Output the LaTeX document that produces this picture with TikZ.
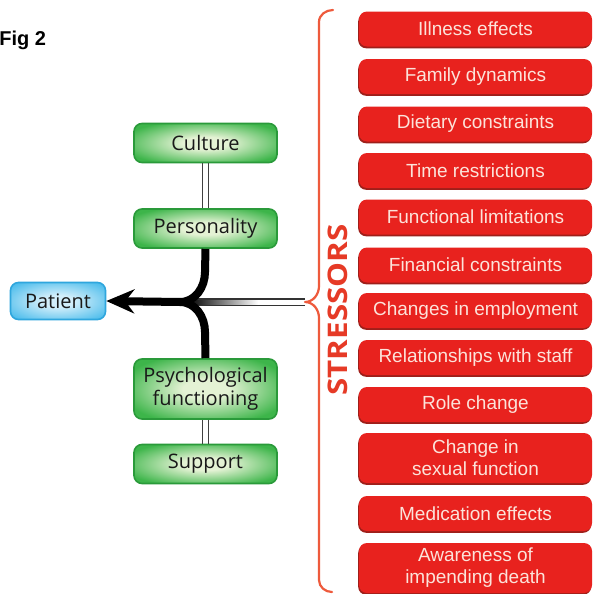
\documentclass[tikz,border=0pt]{standalone}
\usepackage{fontspec}
\setmainfont{Open Sans}
\newfontfamily\rfont{Liberation Sans}
\usetikzlibrary{arrows.meta}
\definecolor{gmain}{HTML}{3DB54A}
\definecolor{glight}{HTML}{E4F2D4}
\definecolor{gdark}{HTML}{2A9A3A}
\definecolor{bmain}{HTML}{4DBDEC}
\definecolor{blight}{HTML}{D2EEFA}
\definecolor{bdark}{HTML}{2FA6DD}
\definecolor{rmain}{HTML}{E8221E}
\definecolor{rdark}{HTML}{9E1F1A}
\definecolor{rtext}{HTML}{FCE3DA}
\definecolor{bracecol}{HTML}{EE5A3C}
\definecolor{stresscol}{HTML}{E63A26}
\pgfdeclareradialshading{gglow}{\pgfpoint{0bp}{0bp}}{color(0bp)=(glight); color(8bp)=(glight); color(30bp)=(gmain); color(50bp)=(gmain)}
\pgfdeclareradialshading{bglow}{\pgfpoint{0bp}{0bp}}{color(0bp)=(blight); color(8bp)=(blight); color(32bp)=(bmain); color(50bp)=(bmain)}
\begin{document}
\begin{tikzpicture}[x=0.5pt,y=-0.5pt,
  gbox/.style={rounded corners=4pt, draw=gdark, line width=0.8pt, shade, shading=gglow,
    minimum width=71.5pt, minimum height=19.5pt, inner sep=0pt, align=center,
    text=black!90, font=\fontsize{10}{11.5}\selectfont},
  pbox/.style={gbox, draw=bdark, shading=bglow, minimum width=47.5pt, minimum height=18.5pt},
  rbox/.style={rounded corners=4pt, fill=rmain, text=rtext, minimum width=116.5pt,
    minimum height=17.5pt, inner sep=0pt, align=center,
    font=\rfont\fontsize{9.5}{11}\selectfont,
    preaction={fill=rdark, transform canvas={yshift=-0.9pt, xshift=-0.4pt}}},
  rtall/.style={rbox, minimum height=25pt},
  thinpair/.style={black!75, line width=0.6pt},
  flow/.style={line width=4pt, black}
]
\useasboundingbox (0,0) rectangle (594,594);
\fill[white] (0,0) rectangle (594,594);

% title
\node[anchor=base west, inner sep=0pt, font=\rfont\bfseries\fontsize{10}{12}\selectfont] (fig) at (-1,46) {Fig 2};

% green / blue nodes
\node[gbox] (cult) at (205.5,143) {Culture};
\node[gbox] (pers) at (205.5,228.5) {Personality};
\node[gbox, minimum height=30pt] (psych) at (205.5,389) {Psychological\\functioning};
\node[gbox] (supp) at (205.5,464) {Support};
\node[pbox] (pat) at (58,301) {Patient};

% stressor boxes
\node[rbox] (s1) at (475.5,29) {Illness effects};
\node[rbox] (s2) at (475.5,76.5) {Family dynamics};
\node[rbox] (s3) at (475.5,124) {Dietary constraints};
\node[rbox] (s4) at (475.5,170.5) {Time restrictions};
\node[rbox] (s5) at (475.5,217) {Functional limitations};
\node[rbox] (s6) at (475.5,265) {Financial constraints};
\node[rbox] (s7) at (475.5,310.5) {Changes in employment};
\node[rbox] (s8) at (475.5,357.5) {Relationships with staff};
\node[rbox] (s9) at (475.5,404.5) {Role change};
\node[rtall] (s10) at (475.5,458) {Change in\\sexual function};
\node[rbox] (s11) at (475.5,513.5) {Medication effects};
\node[rtall] (s12) at (475.5,568) {Awareness of\\impending death};

% STRESSORS label
\node[rotate=90, inner sep=0pt, text=stresscol, font=\bfseries\fontsize{13.5}{14}\selectfont] (stress) at (338,310) {\scalebox{1.16}[1]{STRESSORS}};

% brace
\coordinate (btip) at (305,302);
\draw[bracecol, line width=1.1pt, line join=round, line cap=round]
  (333,10) to[out=180,in=90] (319,22) -- (319,286) to[out=-90,in=0] (btip)
  to[out=0,in=90] (319,318) -- (319,580) to[out=-90,in=180] (332,592);

% double thin connectors
\draw[thinpair] ([xshift=-1.5pt]cult.south) -- ([xshift=-1.5pt]pers.north);
\draw[thinpair] ([xshift=1.5pt]cult.south) -- ([xshift=1.5pt]pers.north);
\draw[thinpair] ([xshift=-1.5pt]psych.south) -- ([xshift=-1.5pt]supp.north);
\draw[thinpair] ([xshift=1.5pt]psych.south) -- ([xshift=1.5pt]supp.north);

% stressor input line
\coordinate (join) at (188,302);
\shade[left color=black, right color=white] (188,299) rectangle (258,305.5);
\draw[thinpair, black!80] ([yshift=1.5pt]btip) -- ([yshift=1.5pt]join);
\draw[thinpair, black!80] ([yshift=-1.6pt]btip) -- ([yshift=-1.6pt]join);

% main flow arrows
\coordinate (merge) at (180,302);
\draw[flow] (psych.north) -- (205,332) to[out=90,in=0] (merge);
\draw[flow, -{Stealth[length=14pt,width=12pt]}] (pers.south) -- (205,272) to[out=-90,in=0] (merge) -- (pat.east);
\end{tikzpicture}
\end{document}
